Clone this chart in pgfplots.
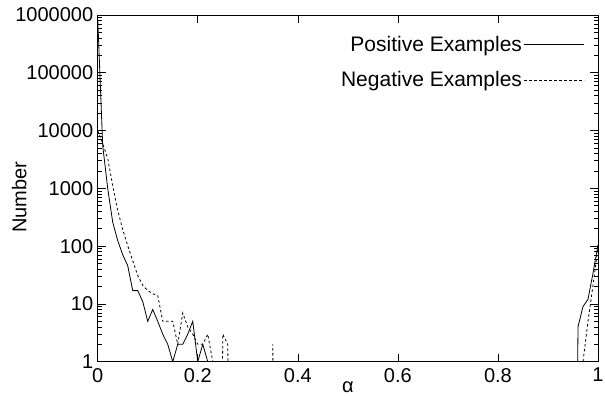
\documentclass[border=0pt]{standalone}
\usepackage{fontspec}
\setmainfont{Liberation Sans}
\usepackage{pgfplots}
\pgfplotsset{compat=1.18}
% 1e-10 stands for a count of zero (drawn off-axis, as in the original log plot)
\pgfplotstableread{
x y
0.00 900000
0.01 5500
0.02 1000
0.03 260
0.04 125
0.05 71
0.06 46
0.07 17
0.08 17
0.09 11
0.10 5
0.11 8
0.12 5
0.13 3
0.14 2
0.15 1
0.16 2
0.17 2
0.18 3
0.19 5
0.20 1
0.21 2
0.22 1
0.23 1e-10
0.95 1e-10
0.96 4
0.97 9
0.98 12
0.99 34
1.00 105
}\positive
\pgfplotstableread{
x y
0.00 10000
0.01 6000
0.02 3300
0.03 1120
0.04 415
0.05 194
0.06 102
0.07 56
0.08 31
0.09 21
0.10 17
0.11 15
0.12 14
0.13 5
0.14 5
0.15 5
0.16 2
0.17 7
0.18 4
0.19 3
0.20 2
0.21 2
0.22 3
0.23 1
0.24 1e-10
0.25 3
0.26 2
0.27 1e-10
0.34 1e-10
0.35 2
0.36 1e-10
0.96 1e-10
0.97 1
0.98 5
0.99 21
1.00 95
}\negative
\begin{document}
\begin{tikzpicture}[font=\fontsize{20}{24}\selectfont]
\begin{axis}[name=ax, scale only axis, width=500.3pt, height=346.7pt,
  xmin=0, xmax=1, ymin=1, ymax=1000000, ymode=log,
  xtick={0,0.2,0.4,0.6,0.8,1}, xticklabels={0,0.2,0.4,0.6,0.8,1},
  ytick={1,10,100,1000,10000,100000,1000000},
  yticklabels={1,10,100,1000,10000,100000,1000000},
  tick align=inside, xtick pos=both, ytick pos=both,
  major tick length=8pt, minor tick length=4pt,
  tick style={black, line width=0.6pt},
  axis line style={line width=0.9pt},
  xticklabel style={yshift=-3pt},
  yticklabel style={xshift=-1pt},
  xlabel={α}, ylabel={Number},
  xlabel style={at={(axis description cs:0.5,-0.089)}, anchor=base},
  ylabel style={at={(axis description cs:-0.157,0.474)}, anchor=center},
  legend style={draw=none, fill=none, at={(axis description cs:0.974,0.946)},
    anchor=north east, row sep=15pt, inner sep=0pt,
    nodes={inner sep=2pt}, font=\fontsize{21}{25}\selectfont},
  legend cell align=right, legend plot pos=right,
  legend image code/.code={\draw[#1] (0pt,0pt) -- (60pt,0pt);},
]
\addplot[black, line width=0.8pt, mark=none] table[x=x,y=y] {\positive};
\addlegendentry{Positive Examples}
\addplot[black, line width=0.8pt, dash pattern=on 2.5pt off 2.5pt, mark=none] table[x=x,y=y] {\negative};
\addlegendentry{Negative Examples}
\end{axis}
\pgfresetboundingbox
\path[use as bounding box] ([xshift=-97.7pt,yshift=-34.3pt]ax.south west) rectangle ([xshift=7pt,yshift=15pt]ax.north east);
\end{tikzpicture}
\end{document}
